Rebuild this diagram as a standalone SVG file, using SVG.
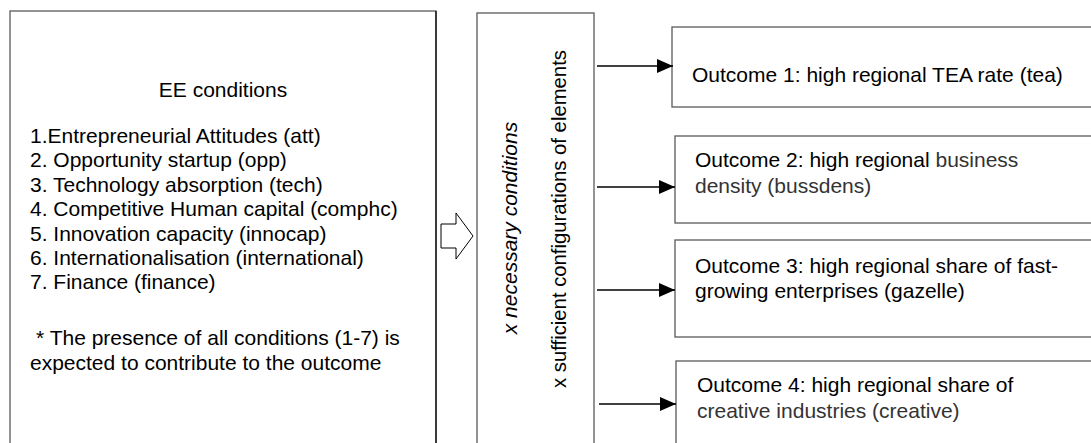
<svg xmlns="http://www.w3.org/2000/svg" width="1091" height="443" viewBox="0 0 1091 443">
<style>
.box{fill:#fff;stroke:#5a5a5a;stroke-width:1.3}
.t{font-family:"Liberation Sans",Arial,sans-serif;font-size:21px;fill:#000}
.g{fill:#333}
.con{stroke:#000;stroke-width:1.3;fill:none}
</style>
<defs>
<marker id="ah" markerWidth="16" markerHeight="14" refX="16" refY="7" orient="auto" markerUnits="userSpaceOnUse">
<path d="M0,0 L16,7 L0,14 Z" fill="#000"/>
</marker>
</defs>
<g id="ee-conditions">
<rect class="box" x="10" y="11" width="426" height="445"/>
<line x1="436" y1="11" x2="436" y2="443" stroke="#000" stroke-width="1.2"/>
<text class="t" x="223" y="97" text-anchor="middle">EE conditions</text>
<text class="t" x="30" y="143">1.Entrepreneurial Attitudes (att)</text>
<text class="t" x="30" y="167.4">2. Opportunity startup (opp)</text>
<text class="t" x="30" y="191.8">3. Technology absorption (tech)</text>
<text class="t" x="30" y="216.2">4. Competitive Human capital (comphc)</text>
<text class="t" x="30" y="240.6">5. Innovation capacity (innocap)</text>
<text class="t" x="30" y="265">6. Internationalisation (international)</text>
<text class="t" x="30" y="289.4">7. Finance (finance)</text>
<text class="t" x="36" y="345">* The presence of all conditions (1-7) is</text>
<text class="t" x="30" y="370">expected to contribute to the outcome</text>
</g>
<g id="analysis">
<rect class="box" x="477" y="13" width="117" height="445"/>
<text class="t" transform="translate(517,228) rotate(-90)" text-anchor="middle" font-style="italic">x necessary conditions</text>
<text class="t" transform="translate(566,219) rotate(-90)" text-anchor="middle" style="font-size:20.3px">x sufficient configurations of elements</text>
</g>
<g id="outcome1">
<rect class="box" x="672" y="27" width="430" height="80"/>
<text class="t" x="692" y="82">Outcome 1: high regional TEA rate (tea)</text>
</g>
<g id="outcome2">
<rect class="box" x="675" y="136" width="430" height="87"/>
<text class="t" x="695" y="167">Outcome 2: high regional <tspan class="g">business</tspan></text>
<text class="t g" x="695" y="193">density (bussdens)</text>
</g>
<g id="outcome3">
<rect class="box" x="675" y="240" width="430" height="97"/>
<text class="t" x="695" y="273">Outcome 3: high regional share of fast-</text>
<text class="t" x="695" y="298">growing enterprises (gazelle)</text>
</g>
<g id="outcome4">
<rect class="box" x="676" y="361" width="430" height="100"/>
<text class="t" x="697" y="392">Outcome 4: high regional share of</text>
<text class="t g" x="697" y="418">creative industries (creative)</text>
</g>
<g id="connectors">
<path d="M441,224 H456 V213 L473,236 L456,259 V248 H441 Z" fill="#fff" stroke="#000" stroke-width="1"/>
<line class="con" x1="597" y1="66" x2="673" y2="66" marker-end="url(#ah)"/>
<line class="con" x1="597" y1="187" x2="675" y2="187" marker-end="url(#ah)"/>
<line class="con" x1="597" y1="290" x2="675" y2="290" marker-end="url(#ah)"/>
<line class="con" x1="599" y1="404" x2="676" y2="404" marker-end="url(#ah)"/>
</g>
</svg>
